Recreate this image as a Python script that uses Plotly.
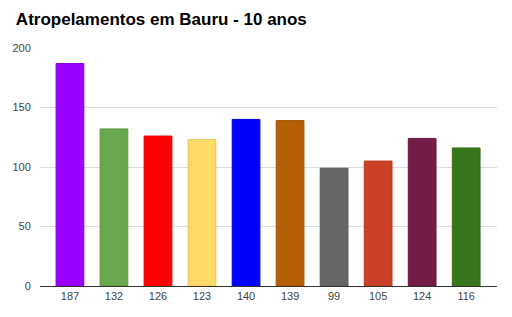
import plotly.graph_objects as go

labels = ["187", "132", "126", "123", "140", "139", "99", "105", "124", "116"]
values = [187, 132, 126, 123, 140, 139, 99, 105, 124, 116]
colors = ["#9900ff", "#6aa84f", "#ff0000", "#ffd966", "#0000ff",
          "#b45f06", "#666666", "#cc4125", "#741b47", "#38761d"]
outline = ["#8a00e6", "#5f9747", "#e60000", "#e6c35c", "#0000e6",
           "#a25505", "#5c5c5c", "#b83b21", "#681840", "#326a1a"]
title = "Atropelamentos em Bauru - 10 anos"

fig = go.Figure(go.Bar(
    x=labels, y=values,
    marker=dict(color=colors, line=dict(color=outline, width=1)),
))
fig.update_layout(
    width=512, height=317,
    margin=dict(l=38, r=15, t=48, b=31),
    paper_bgcolor="white", plot_bgcolor="white",
    bargap=0.37,
    showlegend=False,
    font=dict(family="Liberation Sans, Arial, sans-serif", size=11, color="#444444"),
    title=dict(text="<b>" + title + "</b>", x=0.031, xanchor="left",
               y=0.94, yanchor="middle",
               font=dict(size=17, color="#000000", family="Liberation Sans, Arial, sans-serif")),
    xaxis=dict(type="category", range=[-0.68, 9.70], showgrid=False, showline=True,
               linecolor="#333333", linewidth=1, ticks="",
               tickfont=dict(size=11, color="#444444")),
    yaxis=dict(range=[0, 200], tickvals=[0, 50, 100, 150, 200], showgrid=True,
               gridcolor="#dddddd", zeroline=False, showline=False,
               ticks="outside", ticklen=6, tickcolor="rgba(0,0,0,0)",
               tickfont=dict(size=11, color="#444444")),
)
fig.write_html("out.html")
